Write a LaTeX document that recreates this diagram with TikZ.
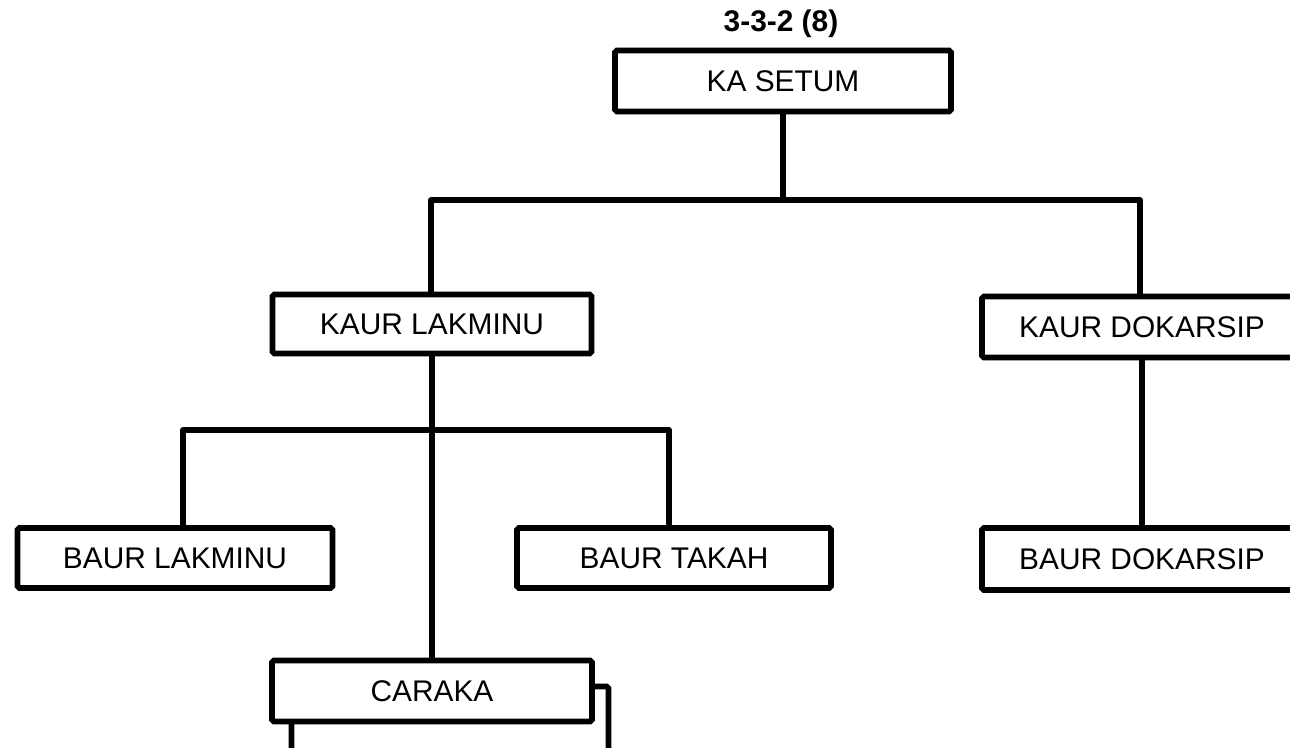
\documentclass[tikz,border=0pt]{standalone}
\usepackage{fontspec}
\setmainfont{Liberation Sans}
\usepackage{tikz}

\begin{document}
\begin{tikzpicture}
  [x=0.02cm,y=-0.02cm]
      \tikzstyle{edge_style} = [draw=black, line width=3.2pt, line join=round]
      \tikzstyle{box_style} = [draw=black, line width=3.2pt, fill=white, rounded corners=1pt,
        inner sep=0pt, minimum width=6.4cm, minimum height=1.2cm, font=\fontsize{17}{20}\selectfont]
  \useasboundingbox (0,0) rectangle (1290,747);
  \clip (0,0) rectangle (1290,747);
  \node[font=\fontsize{17}{20}\selectfont\bfseries] (title) at (781,24) {3-3-2 (8)};
  \node[box_style, minimum width=6.72cm, minimum height=1.22cm] (ka_setum) at (783,81) {KA SETUM};
  \node[box_style, minimum width=6.38cm, minimum height=1.18cm] (kaur_lakminu) at (432,324) {KAUR LAKMINU};
  \node[box_style, minimum height=1.22cm] (kaur_dokarsip) at (1142,327) {KAUR DOKARSIP};
  \node[box_style, minimum width=6.3cm] (baur_lakminu) at (175,558) {BAUR LAKMINU};
  \node[box_style, minimum width=6.28cm] (baur_takah) at (674,558) {BAUR TAKAH};
  \node[box_style, minimum height=1.24cm] (baur_dokarsip) at (1142,559) {BAUR DOKARSIP};
  \node[box_style, minimum width=6.34cm, minimum height=1.5cm] (caraka_back) at (450,724) {};
  \node[box_style, minimum height=1.22cm] (caraka) at (432,691) {CARAKA};
  \coordinate (bus_top_l) at (431,200);
  \coordinate (bus_top_r) at (1140,200);
  \coordinate (bus_mid_l) at (183,430);
  \coordinate (bus_mid_r) at (669,430);
  \draw[edge_style] (ka_setum) -- (ka_setum |- bus_top_l);
  \draw[edge_style] (bus_top_l |- kaur_lakminu.north) -- (bus_top_l) -- (bus_top_r) -- (bus_top_r |- kaur_dokarsip.north);
  \draw[edge_style] (kaur_dokarsip) -- (baur_dokarsip);
  \draw[edge_style] (kaur_lakminu) -- (caraka);
  \draw[edge_style] (bus_mid_l |- baur_lakminu.north) -- (bus_mid_l) -- (bus_mid_r) -- (bus_mid_r |- baur_takah.north);
\end{tikzpicture}
\end{document}
